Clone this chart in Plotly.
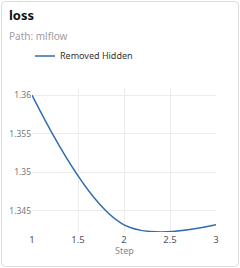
import plotly.graph_objects as go

steps = [1, 2, 3]
loss = [1.36, 1.3432, 1.3432]
series_name = "Removed Hidden"
x_ticks = [1, 1.5, 2, 2.5, 3]
x_tick_text = ["1", "1.5", "2", "2.5", "3"]
y_ticks = [1.345, 1.35, 1.355, 1.36]
y_tick_text = ["1.345", "1.35", "1.355", "1.36"]

W, H = 240, 268
L, R, T, B = 32, 24, 88, 36
pw, ph = W - L - R, H - T - B

def px(x):
    return (x - L) / pw

def py(y):
    return (H - B - y) / ph

fig = go.Figure()
fig.add_trace(go.Scatter(
    x=steps, y=loss, mode="lines", name=series_name,
    line=dict(color="#2f6db0", width=1.5, shape="spline"),
    showlegend=False, cliponaxis=True,
))

font = "Noto Sans, Open Sans, sans-serif"
fig.update_layout(
    width=W, height=H,
    margin=dict(l=L, r=R, t=T, b=B),
    paper_bgcolor="white", plot_bgcolor="white",
    font=dict(family=font, size=9, color="#6b6b6b"),
    showlegend=False,
    xaxis=dict(tickvals=x_ticks, ticktext=x_tick_text, automargin=False,
               showgrid=True, gridcolor="#ececec", zeroline=False, showline=False,
               ticks="", tickfont=dict(size=9.5, color="#555")),
    yaxis=dict(tickvals=y_ticks, ticktext=y_tick_text, automargin=False,
               showgrid=True, gridcolor="#ececec", zeroline=False, showline=False,
               ticks="", tickfont=dict(size=8.5, color="#777")),
)

# card border with rounded corners
x0, x1, y0, y1, r = px(1.5), px(238.5), py(1.5), py(266.5), 4
rx, ry = r / pw, r / ph
path = (f"M {x0+rx},{y0} L {x1-rx},{y0} Q {x1},{y0} {x1},{y0-ry} "
        f"L {x1},{y1+ry} Q {x1},{y1} {x1-rx},{y1} L {x0+rx},{y1} "
        f"Q {x0},{y1} {x0},{y1+ry} L {x0},{y0-ry} Q {x0},{y0} {x0+rx},{y0} Z")
fig.add_shape(type="path", path=path, xref="paper", yref="paper",
              line=dict(color="#dcdcdc", width=1), layer="below")

# title texts
fig.add_annotation(text="<b>loss</b>", xref="paper", yref="paper", x=px(7), y=py(15),
                   xanchor="left", yanchor="middle", showarrow=False,
                   font=dict(size=13, color="#111", family=font))
fig.add_annotation(text="Path: mlflow", xref="paper", yref="paper", x=px(7), y=py(36),
                   xanchor="left", yanchor="middle", showarrow=False,
                   font=dict(size=10, color="#a0a0a0", family=font))

# x-axis title
fig.add_annotation(text="Step", xref="paper", yref="paper", x=0.5, y=py(250),
                   xanchor="center", yanchor="middle", showarrow=False,
                   font=dict(size=9, color="#888", family=font))

# legend
fig.add_shape(type="line", xref="paper", yref="paper", x0=px(35), x1=px(55),
              y0=py(56), y1=py(56), line=dict(color="#2f6db0", width=1.5))
fig.add_annotation(text=series_name, xref="paper", yref="paper", x=px(58), y=py(56),
                   xanchor="left", yanchor="middle", showarrow=False,
                   font=dict(size=9, color="#333", family=font))

fig.write_html("out.html", config={"displayModeBar": False},
               post_script="document.body.style.margin='0';document.body.style.overflow='hidden';")
